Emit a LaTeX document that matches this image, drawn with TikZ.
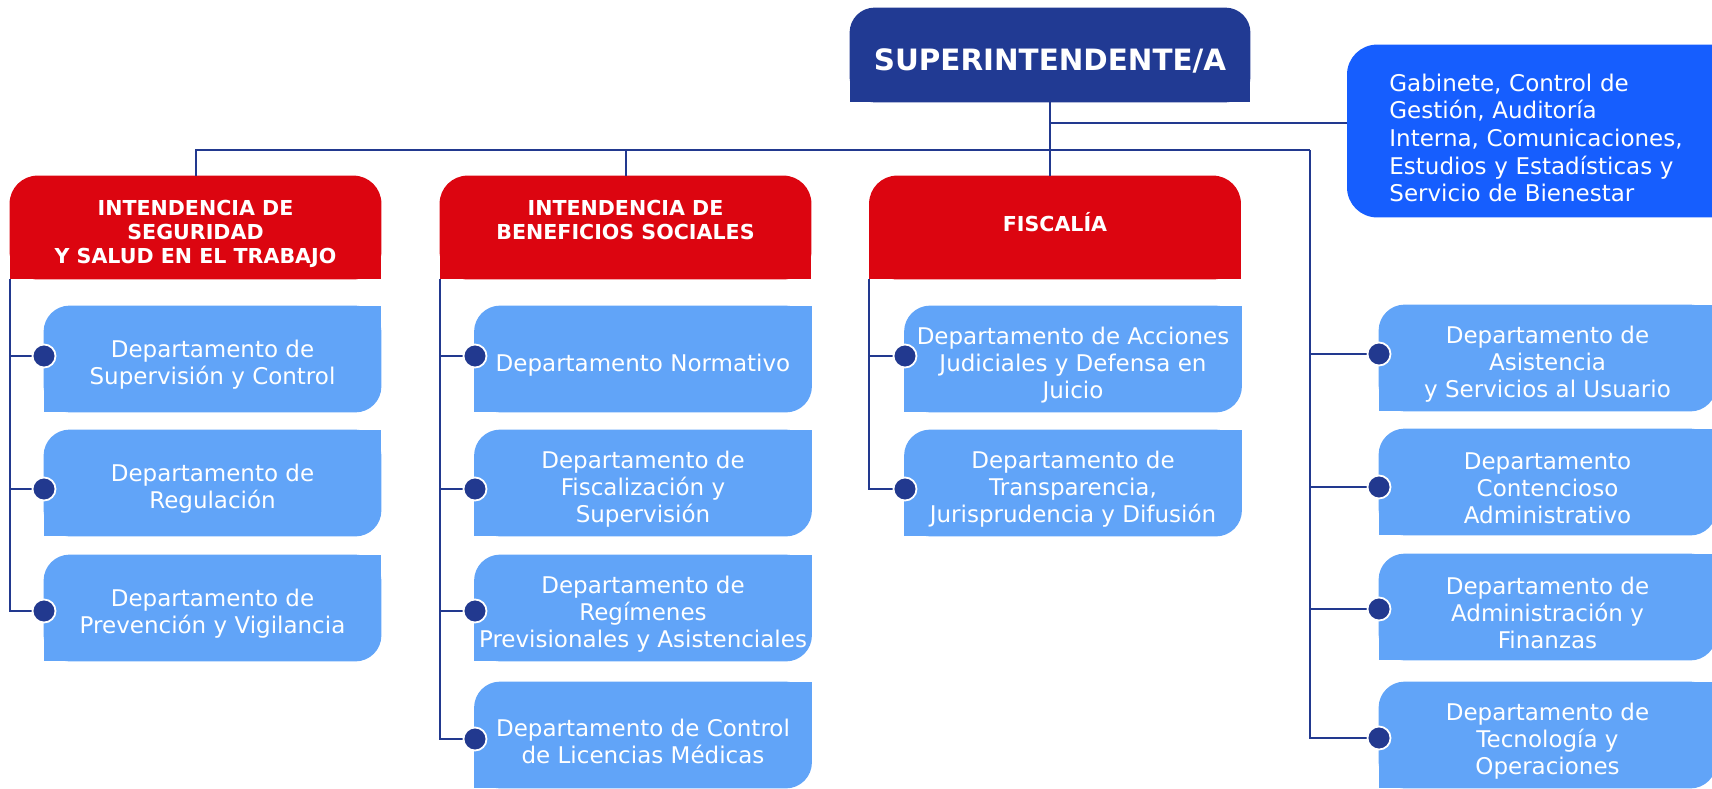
\documentclass[tikz,border=0pt]{standalone}
\usepackage{fontspec}
\setmainfont{DejaVu Sans}
\usetikzlibrary{backgrounds}

\definecolor{supnavy}{HTML}{213A93}
\definecolor{intred}{HTML}{DC0510}
\definecolor{deptblue}{HTML}{61A4F8}
\definecolor{gabblue}{HTML}{165EFE}
\definecolor{linenavy}{HTML}{22398F}

% box with round top corners: node, colour, radius
\newcommand{\topround}[3]{%
  \fill[#2, rounded corners=#3] (#1.south west) rectangle (#1.north east);
  \fill[#2] (#1.south west) rectangle (#1.east);}
% department box: round top left and bottom right
\newcommand{\deptround}[1]{%
  \fill[deptblue, rounded corners=13pt] (#1.south west) rectangle (#1.north east);
  \fill[deptblue] (#1.south west) rectangle (#1.center);
  \fill[deptblue] (#1.center) rectangle (#1.north east);}

\tikzset{
  conn/.style={draw=linenavy, line width=1pt},
  dot/.style={circle, fill=linenavy, draw=white, line width=0.9pt, minimum size=11.5pt, inner sep=0pt},
  boxtext/.style={inner sep=0pt, align=center, text=white},
  supbox/.style={minimum width=200pt, minimum height=47pt, inner sep=0pt,
    label={[boxtext, yshift=-2.75pt, font=\bfseries\fontsize{14.7pt}{17pt}\selectfont]center:#1}},
  titlebox/.style 2 args={minimum width=185.5pt, minimum height=51.5pt, inner sep=0pt,
    label={[boxtext, yshift=#1, font=\bfseries\fontsize{10.3pt}{12pt}\selectfont]center:#2}},
  deptbox/.style={minimum width=168.5pt, minimum height=53pt, inner sep=0pt,
    label={[boxtext, yshift=-3pt, font=\fontsize{11.5pt}{13.5pt}\selectfont]center:#1}},
  gabbox/.style={anchor=west, minimum width=206.5pt, minimum height=86pt, inner sep=0pt,
    label={[boxtext, yshift=-3.5pt, text width=164.5pt, align=left,
      font=\fontsize{11.5pt}{13.85pt}\selectfont]center:#1}},
}

\begin{document}
\begin{tikzpicture}[x=0.5pt, y=-0.5pt]
  \useasboundingbox (0,0) rectangle (1712,788);
  % top
  \node[supbox={SUPERINTENDENTE/A}] (super) at (1050,55) {};
  \node[gabbox={Gabinete, Control de\\Gestión, Auditoría\\Interna, Comunicaciones,\\Estudios y Estadísticas y\\Servicio de Bienestar}] (gab) at (1347,131) {};
  % intendencias
  \node[titlebox={-3.25pt}{INTENDENCIA DE\\SEGURIDAD\\Y SALUD EN EL TRABAJO}] (sst) at (195.5,227.5) {};
  \node[titlebox={4pt}{INTENDENCIA DE\\BENEFICIOS SOCIALES}] (ibs) at (625.5,227.5) {};
  \node[titlebox={2.5pt}{FISCALÍA}] (fis) at (1055,227.5) {};
  % departamentos
  \node[deptbox={Departamento de\\Supervisión y Control}] (sst1) at (212.5,359) {};
  \node[deptbox={Departamento de\\Regulación}] (sst2) at (212.5,483) {};
  \node[deptbox={Departamento de\\Prevención y Vigilancia}] (sst3) at (212.5,608) {};
  \node[deptbox={Departamento Normativo}] (ibs1) at (643,359) {};
  \node[deptbox={Departamento de\\Fiscalización y\\Supervisión}] (ibs2) at (643,483) {};
  \node[deptbox={Departamento de\\Regímenes\\Previsionales y Asistenciales}] (ibs3) at (643,608) {};
  \node[deptbox={Departamento de Control\\de Licencias Médicas}] (ibs4) at (643,735) {};
  \node[deptbox={Departamento de Acciones\\Judiciales y Defensa en\\Juicio}] (fis1) at (1073,359) {};
  \node[deptbox={Departamento de\\Transparencia,\\Jurisprudencia y Difusión}] (fis2) at (1073,483) {};
  \node[deptbox={Departamento de\\Asistencia\\y Servicios al Usuario}] (apo1) at (1547.5,358) {};
  \node[deptbox={Departamento\\Contencioso\\Administrativo}] (apo2) at (1547.5,482) {};
  \node[deptbox={Departamento de\\Administración y\\Finanzas}] (apo3) at (1547.5,607) {};
  \node[deptbox={Departamento de\\Tecnología y\\Operaciones}] (apo4) at (1547.5,735) {};
  % dots
  \node[dot] (dsst1) at (44,356) {};
  \node[dot] (dsst2) at (44,489) {};
  \node[dot] (dsst3) at (44,611) {};
  \node[dot] (dibs1) at (475,356) {};
  \node[dot] (dibs2) at (475,489) {};
  \node[dot] (dibs3) at (475,611) {};
  \node[dot] (dibs4) at (475,739) {};
  \node[dot] (dfis1) at (905,356) {};
  \node[dot] (dfis2) at (905,489) {};
  \node[dot] (dapo1) at (1379,354) {};
  \node[dot] (dapo2) at (1379,487) {};
  \node[dot] (dapo3) at (1379,609) {};
  \node[dot] (dapo4) at (1379,738) {};
  \coordinate (rbus) at (1310,150);

  \begin{scope}[on background layer]
    \topround{super}{supnavy}{12.5pt}
    \topround{sst}{intred}{14pt}
    \topround{ibs}{intred}{14pt}
    \topround{fis}{intred}{14pt}
    \fill[gabblue, rounded corners=15pt] (gab.south west) rectangle (gab.north east);
    \fill[gabblue] (gab.north) rectangle (gab.south east);
    \deptround{sst1} \deptround{sst2} \deptround{sst3}
    \deptround{ibs1} \deptround{ibs2} \deptround{ibs3} \deptround{ibs4}
    \deptround{fis1} \deptround{fis2}
    \deptround{apo1} \deptround{apo2} \deptround{apo3} \deptround{apo4}
    % lines
    \draw[conn] (super.south) -- (super.south |- fis.north);
    \draw[conn] ([yshift=4pt]gab.west) -| (super.south);
    \draw[conn] (sst.north) |- (rbus);
    \draw[conn] (ibs.north) -- (ibs.north |- rbus);
    \draw[conn] (rbus) |- (dapo4);
    \draw[conn] (rbus) |- (dapo1);
    \draw[conn] (rbus) |- (dapo2);
    \draw[conn] (rbus) |- (dapo3);
    \draw[conn] (sst.south west) |- (dsst1);
    \draw[conn] (sst.south west) |- (dsst2);
    \draw[conn] (sst.south west) |- (dsst3);
    \draw[conn] (ibs.south west) |- (dibs1);
    \draw[conn] (ibs.south west) |- (dibs2);
    \draw[conn] (ibs.south west) |- (dibs3);
    \draw[conn] (ibs.south west) |- (dibs4);
    \draw[conn] (fis.south west) |- (dfis1);
    \draw[conn] (fis.south west) |- (dfis2);
  \end{scope}
\end{tikzpicture}
\end{document}
